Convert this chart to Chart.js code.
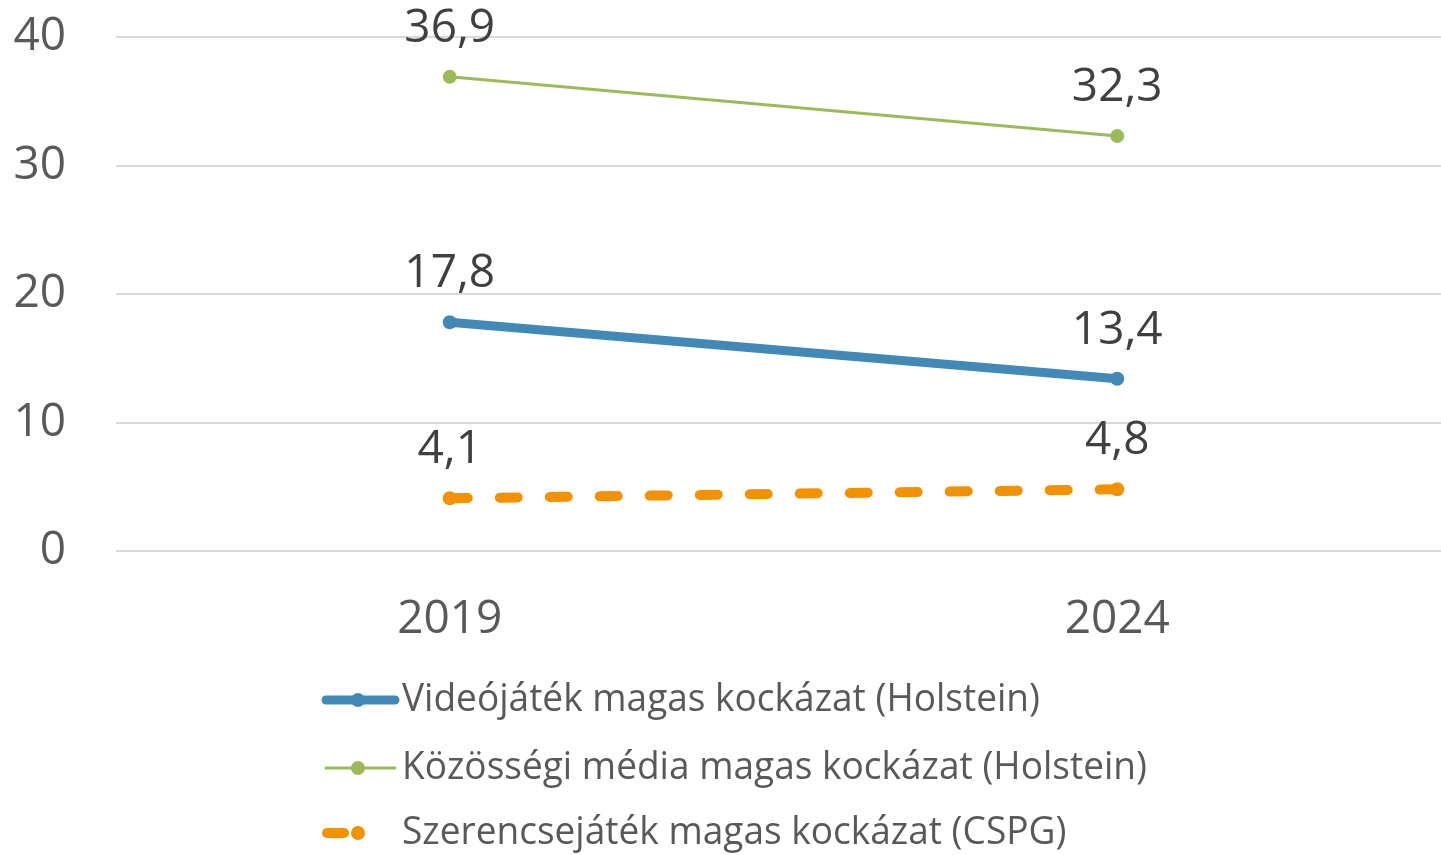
<!DOCTYPE html>
<html>
<head>
<meta charset="utf-8">
<script src="https://cdn.jsdelivr.net/npm/chart.js@4"></script>
<style>
  html, body { margin: 0; padding: 0; background: #fff; overflow: hidden; }
  #wrap { width: 1458px; height: 855px; }
</style>
</head>
<body>
<div id="wrap"><canvas id="chart"></canvas></div>
<script>
const years = ['2019', '2024'];
const videoGame = [17.8, 13.4];
const socialMedia = [36.9, 32.3];
const gambling = [4.1, 4.8];
const seriesNames = [
    'Videójáték magas kockázat (Holstein)',
    'Közösségi média magas kockázat (Holstein)',
    'Szerencsejáték magas kockázat (CSPG)'
];

const FONT = '"Open Sans", sans-serif';

// value labels above each point, with a comma as decimal separator
const valueLabels = {
    id: 'valueLabels',
    afterDatasetsDraw(chart) {
        const ctx = chart.ctx;
        ctx.save();
        ctx.font = '46px ' + FONT;
        ctx.fillStyle = '#404040';
        ctx.textAlign = 'center';
        ctx.textBaseline = 'middle';
        chart.data.datasets.forEach((ds, i) => {
            chart.getDatasetMeta(i).data.forEach((pt, j) => {
                ctx.fillText(String(ds.data[j]).replace('.', ','), pt.x, pt.y - 48);
            });
        });
        ctx.restore();
    }
};

// stacked legend below the axis, left aligned like the original
const stackedLegend = {
    id: 'stackedLegend',
    afterDraw(chart) {
        const ctx = chart.ctx;
        const rows = [700, 768, 833];
        const x0 = 322;
        ctx.save();
        chart.data.datasets.forEach((ds, i) => {
            const y = rows[i];
            ctx.strokeStyle = ds.borderColor;
            ctx.fillStyle = ds.borderColor;
            ctx.lineCap = 'round';
            ctx.lineWidth = ds.borderWidth;
            ctx.beginPath();
            if (ds.borderDash && ds.borderDash.length) {
                ctx.moveTo(x0 + 5, y);
                ctx.lineTo(x0 + 22, y);
            } else {
                ctx.moveTo(x0 + 4, y);
                ctx.lineTo(x0 + 73, y);
            }
            ctx.stroke();
            ctx.beginPath();
            ctx.arc(x0 + 36, y, ds.pointRadius, 0, Math.PI * 2);
            ctx.fill();

            ctx.save();
            ctx.translate(x0 + 80, y);
            ctx.scale(0.975, 1);
            ctx.font = '38px ' + FONT;
            ctx.fillStyle = '#595959';
            ctx.textAlign = 'left';
            ctx.textBaseline = 'middle';
            ctx.fillText(ds.label, 0, 0);
            ctx.restore();
        });
        ctx.restore();
    }
};

new Chart(document.getElementById('chart'), {
    type: 'line',
    data: {
        labels: years,
        datasets: [{
            label: seriesNames[0],
            data: videoGame,
            borderColor: '#4389B8',
            backgroundColor: '#4389B8',
            borderWidth: 9,
            pointRadius: 7,
            pointBorderWidth: 0,
            pointHoverRadius: 7,
            fill: false
        }, {
            label: seriesNames[1],
            data: socialMedia,
            borderColor: '#9BBB59',
            backgroundColor: '#9BBB59',
            borderWidth: 3,
            pointRadius: 7,
            pointBorderWidth: 0,
            pointHoverRadius: 7,
            fill: false
        }, {
            label: seriesNames[2],
            data: gambling,
            borderColor: '#F39200',
            backgroundColor: '#F39200',
            borderWidth: 10,
            borderDash: [18, 32],
            borderCapStyle: 'round',
            pointRadius: 7,
            pointBorderWidth: 0,
            pointHoverRadius: 7,
            fill: false
        }]
    },
    options: {
        responsive: true,
        maintainAspectRatio: false,
        animation: false,
        layout: { padding: { top: 37, bottom: 208, left: 11, right: 0 } },
        plugins: {
            legend: { display: false },
            tooltip: { enabled: false }
        },
        scales: {
            x: {
                offset: true,
                grid: { display: false, drawTicks: false },
                border: { display: false },
                ticks: { color: '#595959', font: { family: FONT, size: 46 }, padding: 41 },
                afterFit(scale) {
                    scale.height = 96;
                    scale.paddingLeft = 0;
                    scale.paddingRight = 0;
                }
            },
            y: {
                min: 0,
                max: 40,
                grid: { color: '#d9d9d9', lineWidth: 2, drawTicks: false },
                border: { display: false },
                ticks: { stepSize: 10, color: '#595959', font: { family: FONT, size: 46 }, padding: 50 },
                afterFit(scale) {
                    scale.width = 105;
                    scale.paddingTop = 0;
                    scale.paddingBottom = 0;
                }
            }
        }
    },
    plugins: [valueLabels, stackedLegend]
});
</script>
</body>
</html>
